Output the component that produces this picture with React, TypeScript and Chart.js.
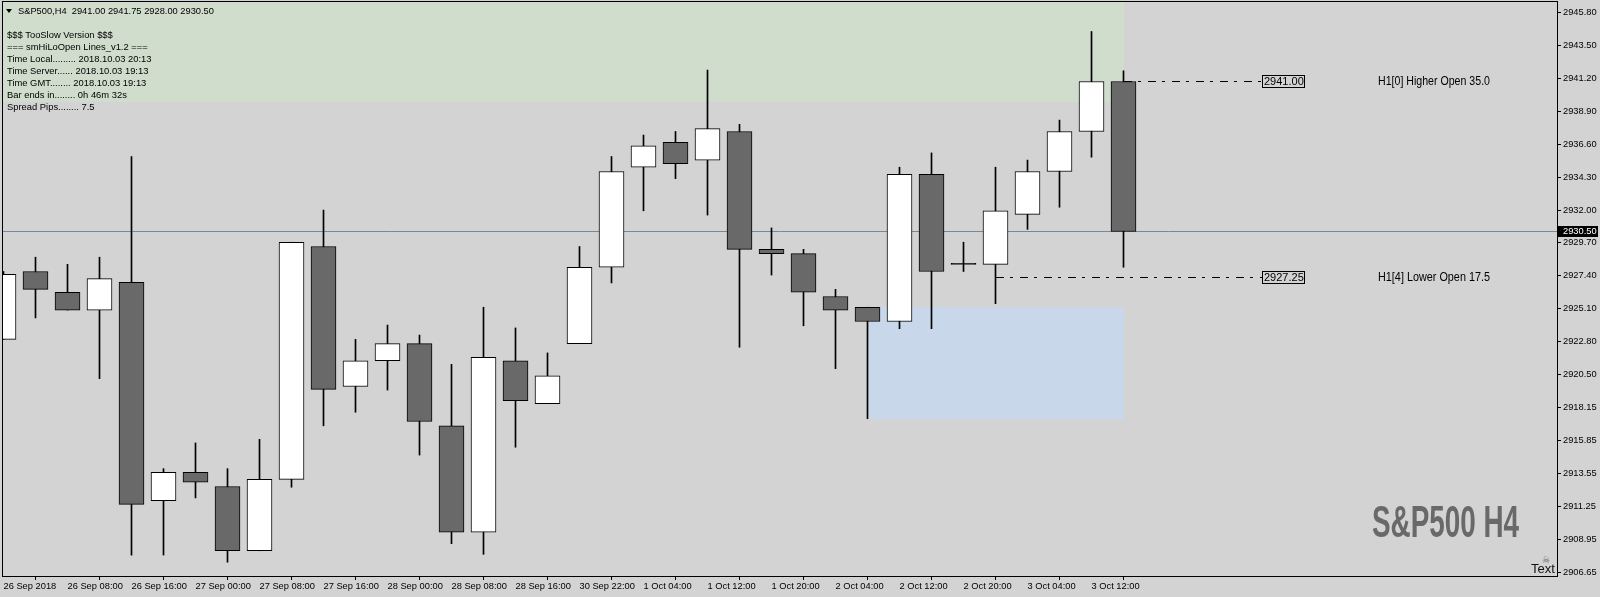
import React, { useEffect, useRef } from "react";
import { Chart, registerables } from "chart.js";

Chart.register(...registerables);

// ---------- data ----------
const BAR_TIMES = [
  "26 Sep 00:00", "26 Sep 04:00", "26 Sep 08:00", "26 Sep 12:00", "26 Sep 16:00", "26 Sep 20:00",
  "27 Sep 00:00", "27 Sep 04:00", "27 Sep 08:00", "27 Sep 12:00", "27 Sep 16:00", "27 Sep 20:00",
  "28 Sep 00:00", "28 Sep 04:00", "28 Sep 08:00", "28 Sep 12:00", "28 Sep 16:00", "28 Sep 20:00",
  "30 Sep 22:00", "1 Oct 00:00", "1 Oct 04:00", "1 Oct 08:00", "1 Oct 12:00", "1 Oct 16:00",
  "1 Oct 20:00", "2 Oct 00:00", "2 Oct 04:00", "2 Oct 08:00", "2 Oct 12:00", "2 Oct 16:00",
  "2 Oct 20:00", "3 Oct 00:00", "3 Oct 04:00", "3 Oct 08:00", "3 Oct 12:00", "3 Oct 16:00",
];

const OPEN = [
  2922.95, 2927.7, 2926.25, 2925.0, 2926.95, 2911.65, 2913.65, 2912.65, 2908.15, 2913.15,
  2929.45, 2919.65, 2921.45, 2922.65, 2916.9, 2909.45, 2921.45, 2918.45, 2922.65, 2928.0,
  2935.0, 2936.75, 2935.5, 2937.5, 2929.25, 2928.95, 2925.95, 2925.2, 2924.2, 2934.5,
  2928.2, 2928.2, 2931.7, 2934.7, 2937.5, 2941.0,
];
const HIGH = [
  2927.7, 2928.7, 2928.2, 2928.7, 2935.75, 2913.9, 2915.7, 2913.9, 2915.95, 2929.75,
  2932.0, 2922.95, 2923.95, 2923.25, 2921.2, 2925.2, 2923.75, 2922.0, 2929.45, 2935.75,
  2937.25, 2937.5, 2941.8, 2938.0, 2930.75, 2929.25, 2926.45, 2925.2, 2935.0, 2936.0,
  2929.75, 2935.0, 2935.5, 2938.3, 2944.5, 2941.75,
];
const LOW = [
  2922.95, 2924.45, 2925.0, 2920.2, 2907.85, 2907.85, 2911.85, 2907.35, 2908.15, 2912.6,
  2916.9, 2917.85, 2919.4, 2914.85, 2908.65, 2907.9, 2915.4, 2918.45, 2922.65, 2926.9,
  2931.95, 2934.2, 2931.65, 2922.4, 2927.45, 2923.9, 2920.9, 2917.4, 2923.7, 2923.7,
  2927.7, 2925.45, 2930.65, 2932.2, 2935.7, 2928.0,
];
const CLOSE = [
  2927.5, 2926.45, 2925.0, 2927.2, 2911.4, 2913.65, 2912.95, 2908.15, 2913.15, 2929.75,
  2919.45, 2921.45, 2922.65, 2917.2, 2909.45, 2921.7, 2918.65, 2920.4, 2928.0, 2934.7,
  2936.5, 2935.25, 2937.7, 2929.25, 2928.95, 2926.25, 2925.0, 2924.2, 2934.5, 2927.7,
  2928.2, 2931.95, 2934.7, 2937.5, 2941.0, 2930.5,
];

const X_TICK_BARS = [0, 2, 4, 6, 8, 10, 12, 14, 16, 18, 20, 22, 24, 26, 28, 30, 32, 34];
const X_TICK_LABELS = [
  "26 Sep 2018", "26 Sep 08:00", "26 Sep 16:00", "27 Sep 00:00", "27 Sep 08:00", "27 Sep 16:00",
  "28 Sep 00:00", "28 Sep 08:00", "28 Sep 16:00", "30 Sep 22:00", "1 Oct 04:00", "1 Oct 12:00",
  "1 Oct 20:00", "2 Oct 04:00", "2 Oct 12:00", "2 Oct 20:00", "3 Oct 04:00", "3 Oct 12:00",
];
const Y_TICK_LABELS = [
  "2945.80", "2943.50", "2941.20", "2938.90", "2936.60", "2934.30", "2932.00", "2929.70", "2927.40",
  "2925.10", "2922.80", "2920.50", "2918.15", "2915.85", "2913.55", "2911.25", "2908.95", "2906.65",
];
const Y_TICK_VALUES = Y_TICK_LABELS.map((s) => parseFloat(s));

const X_MIN = -0.046875;
const X_MAX = 48.546875;
const Y_MIN = 2906.385;
const Y_MAX = 2946.565;

const CURRENT_PRICE = 2930.5;
const CURRENT_PRICE_LABEL = "2930.50";

// shaded zones: [from bar, to bar, low, high]
const ZONE_FROM = [-5, 27];
const ZONE_TO = [35, 35];
const ZONE_LOW = [2939.55, 2917.4];
const ZONE_HIGH = [2960, 2925.2];
const ZONE_COLORS = ["#d0dccc", "#c8d8ea"];

// open levels
const LEVEL_PRICES = [2941.0, 2927.25];
const LEVEL_LABELS = ["2941.00", "2927.25"];
const LEVEL_FROM_BAR = [35, 31];
const LEVEL_END_X = 39.34;
const LEVEL_TEXT_X = 42.94;
const LEVEL_TEXTS = ["H1[0] Higher Open 35.0", "H1[4] Lower Open 17.5"];

const TITLE = "S&P500,H4  2941.00 2941.75 2928.00 2930.50";
const INFO_LINES = [
  "$$$ TooSlow Version $$$",
  "=== smHiLoOpen Lines_v1.2 ===",
  "Time Local......... 2018.10.03 20:13",
  "Time Server...... 2018.10.03 19:13",
  "Time GMT........ 2018.10.03 19:13",
  "Bar ends in........ 0h 46m 32s",
  "Spread Pips........ 7.5",
];
const BIG_LABEL = "S&P500 H4";
const CORNER_LABEL = "Text";

// ---------- style ----------
const BG = "#d3d3d3";
const BEAR = "#696969";
const BULL = "#ffffff";
const FONT = '"Liberation Sans", Arial, sans-serif';

const decor = {
  id: "mtDecor",
  beforeDraw(chart: any) {
    const { ctx, width, height } = chart;
    ctx.save();
    ctx.fillStyle = BG;
    ctx.fillRect(0, 0, width, height);
    ctx.restore();
  },
  beforeDatasetsDraw(chart: any) {
    const { ctx, chartArea: ca, scales } = chart;
    const x = scales.x;
    const y = scales.y;
    ctx.save();
    ctx.beginPath();
    ctx.rect(ca.left, ca.top, ca.right - ca.left, ca.bottom - ca.top);
    ctx.clip();
    ZONE_FROM.forEach((f: number, k: number) => {
      const x1 = Math.round(x.getPixelForValue(f));
      const x2 = Math.round(x.getPixelForValue(ZONE_TO[k]));
      const y1 = Math.round(y.getPixelForValue(ZONE_HIGH[k]));
      const y2 = Math.round(y.getPixelForValue(ZONE_LOW[k]));
      ctx.fillStyle = ZONE_COLORS[k];
      ctx.fillRect(x1, y1, x2 - x1, y2 - y1);
    });
    // current price line
    const py = Math.floor(y.getPixelForValue(CURRENT_PRICE)) + 0.5;
    ctx.strokeStyle = "#778899";
    ctx.lineWidth = 1;
    ctx.beginPath();
    ctx.moveTo(ca.left, py);
    ctx.lineTo(ca.right, py);
    ctx.stroke();
    // level dash-dot lines
    ctx.strokeStyle = "#000";
    ctx.setLineDash([8, 6, 3, 7]);
    LEVEL_PRICES.forEach((p: number, k: number) => {
      const ly = Math.floor(y.getPixelForValue(p)) + 0.5;
      ctx.beginPath();
      ctx.moveTo(Math.round(x.getPixelForValue(LEVEL_FROM_BAR[k])), ly);
      ctx.lineTo(Math.round(x.getPixelForValue(LEVEL_END_X)), ly);
      ctx.stroke();
    });
    ctx.setLineDash([]);
    ctx.restore();
  },
  afterDraw(chart: any) {
    const { ctx, chartArea: ca, scales } = chart;
    const x = scales.x;
    const y = scales.y;
    ctx.save();
    // level labels
    LEVEL_PRICES.forEach((p: number, k: number) => {
      const ly = Math.floor(y.getPixelForValue(p));
      const xe = Math.round(x.getPixelForValue(LEVEL_END_X));
      ctx.font = `11px ${FONT}`;
      const w = Math.ceil(ctx.measureText(LEVEL_LABELS[k]).width) + 2;
      ctx.strokeStyle = "#000";
      ctx.lineWidth = 1;
      ctx.strokeRect(xe + 0.5, ly - 5.5, w, 12);
      ctx.fillStyle = "#000";
      ctx.textBaseline = "middle";
      ctx.textAlign = "left";
      ctx.fillText(LEVEL_LABELS[k], xe + 2, ly + 1);
      ctx.font = `12px ${FONT}`;
      ctx.fillText(LEVEL_TEXTS[k], Math.round(x.getPixelForValue(LEVEL_TEXT_X)), ly + 0.5, 112);
    });
    // big label
    ctx.font = `bold 44px "Liberation Sans Narrow", "Liberation Sans", sans-serif`;
    ctx.fillStyle = BEAR;
    ctx.textBaseline = "alphabetic";
    ctx.textAlign = "left";
    ctx.fillText(BIG_LABEL, 1372, 537, 147);
    // corner "Text" with icon
    ctx.font = `13px ${FONT}`;
    ctx.fillStyle = "#111";
    ctx.fillText(CORNER_LABEL, 1531, 573);
    ctx.font = `9px "DejaVu Sans", sans-serif`;
    ctx.fillStyle = "#666";
    ctx.textAlign = "center";
    ctx.fillText("\u2620", 1546, 563);
    // frame
    ctx.strokeStyle = "#000";
    ctx.lineWidth = 1;
    ctx.strokeRect(2.5, 1.5, 1555, 575);
    // current price box on axis
    const py = Math.floor(y.getPixelForValue(CURRENT_PRICE));
    ctx.fillStyle = "#000";
    ctx.fillRect(ca.right + 1, py - 5, 40, 11);
    ctx.fillStyle = "#fff";
    ctx.font = `9.3px ${FONT}`;
    ctx.textAlign = "left";
    ctx.textBaseline = "middle";
    ctx.fillText(CURRENT_PRICE_LABEL, ca.right + 6, py + 0.5);
    // title + info
    ctx.fillStyle = "#000";
    ctx.beginPath();
    ctx.moveTo(6, 9);
    ctx.lineTo(12, 9);
    ctx.lineTo(9, 13);
    ctx.closePath();
    ctx.fill();
    ctx.font = `9.3px ${FONT}`;
    ctx.fillText(TITLE, 18, 11);
    ctx.font = `9.4px ${FONT}`;
    INFO_LINES.forEach((line: string, k: number) => {
      ctx.fillText(line, 7, 35 + 12 * k);
    });
    ctx.restore();
  },
};

export default function App() {
  const ref = useRef<HTMLCanvasElement | null>(null);
  useEffect(() => {
    if (!ref.current) return;
    const bodyColors = OPEN.map((o, i) => (CLOSE[i] === o ? "#000" : CLOSE[i] > o ? BULL : BEAR));
    const chart = new Chart(ref.current, {
      type: "bar",
      data: {
        datasets: [
          {
            label: "body",
            data: OPEN.map((o, i) => ({ x: i, y: [Math.min(o, CLOSE[i]), Math.max(o, CLOSE[i])] })) as any,
            backgroundColor: bodyColors,
            borderColor: "#000",
            borderWidth: 1,
            borderSkipped: false,
            barThickness: 25,
            grouped: false,
            minBarLength: 1,
            order: 0,
            clip: 0,
          } as any,
          {
            label: "wick",
            data: HIGH.map((h, i) => ({ x: i, y: [LOW[i], h] })) as any,
            backgroundColor: "#000",
            borderWidth: 0,
            barThickness: 1,
            grouped: false,
            order: 1,
            clip: 0,
          } as any,
        ],
      },
      options: {
        animation: false,
        responsive: false,
        maintainAspectRatio: false,
        devicePixelRatio: 1,
        layout: { padding: { left: 2, top: 2, right: 0, bottom: 0 } },
        plugins: { legend: { display: false }, tooltip: { enabled: false } },
        scales: {
          x: {
            type: "linear",
            min: X_MIN,
            max: X_MAX,
            bounds: "data",
            offset: false,
            grid: { drawOnChartArea: false, drawTicks: true, tickLength: 4, color: "#000", tickColor: "#000" },
            border: { display: false },
            afterBuildTicks: (s: any) => {
              s.ticks = X_TICK_BARS.map((v) => ({ value: v }));
            },
            afterFit: (s: any) => {
              s.height = 21;
              s.paddingLeft = 0;
              s.paddingRight = 0;
            },
            ticks: {
              autoSkip: false,
              maxRotation: 0,
              minRotation: 0,
              align: "start",
              padding: 1,
              color: "#000",
              font: { family: "Liberation Sans", size: 9.3 },
              callback: (_v: any, i: number) => X_TICK_LABELS[i],
            },
          },
          y: {
            type: "linear",
            position: "right",
            min: Y_MIN,
            max: Y_MAX,
            bounds: "data",
            grid: { drawOnChartArea: false, drawTicks: true, tickLength: 4, color: "#000", tickColor: "#000" },
            border: { display: false },
            afterBuildTicks: (s: any) => {
              s.ticks = Y_TICK_VALUES.map((v) => ({ value: v }));
            },
            afterFit: (s: any) => {
              s.width = 43;
              s.paddingTop = 0;
              s.paddingBottom = 0;
            },
            ticks: {
              autoSkip: false,
              crossAlign: "near",
              padding: 2,
              color: "#000",
              font: { family: "Liberation Sans", size: 9.3 },
              callback: (_v: any, i: number) => Y_TICK_LABELS[i],
            },
          },
        },
      } as any,
      plugins: [decor],
    });
    return () => chart.destroy();
  }, []);
  return (
    <div style={{ position: "absolute", left: 0, top: 0, width: 1600, height: 597, background: BG }}>
      <canvas ref={ref} width={1600} height={597} style={{ display: "block", width: 1600, height: 597 }} />
    </div>
  );
}
